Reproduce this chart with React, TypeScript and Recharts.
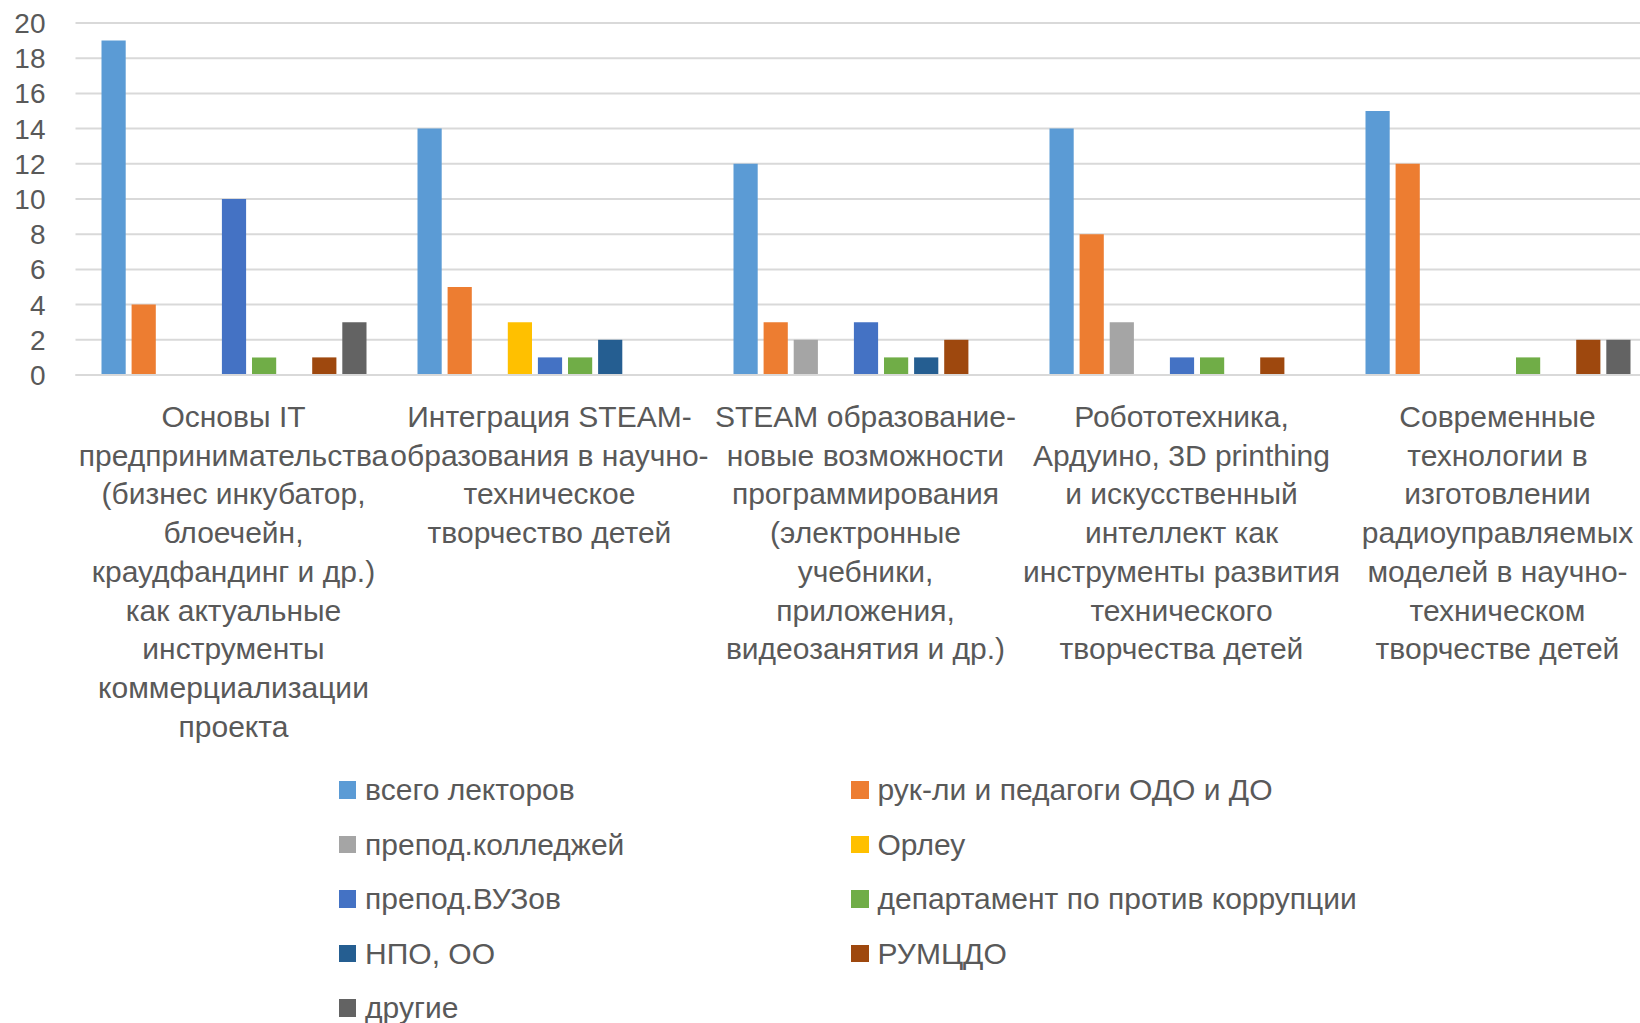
import React from "react";
import { BarChart, Bar, XAxis, YAxis, CartesianGrid } from "recharts";

const categories = [
    "Основы IT\nпредпринимательства\n(бизнес инкубатор,\nблоечейн,\nкраудфандинг и др.)\nкак актуальные\nинструменты\nкоммерциализации\nпроекта",
    "Интеграция STEAM-\nобразования в научно-\nтехническое\nтворчество детей",
    "STEAM образование-\nновые возможности\nпрограммирования\n(электронные\nучебники,\nприложения,\nвидеозанятия и др.)",
    "Робототехника,\nАрдуино, 3D printhing\nи искусственный\nинтеллект как\nинструменты развития\nтехнического\nтворчества детей",
    "Современные\nтехнологии в\nизготовлении\nрадиоуправляемых\nмоделей в научно-\nтехническом\nтворчестве детей",
];

const seriesNames = [
    "всего лекторов",
    "рук-ли и педагоги ОДО и ДО",
    "препод.колледжей",
    "Орлеу",
    "препод.ВУЗов",
    "департамент по против коррупции",
    "НПО, ОО",
    "РУМЦДО",
    "другие",
];

const seriesColors = [
    "#5B9BD5",
    "#ED7D31",
    "#A5A5A5",
    "#FFC000",
    "#4472C4",
    "#70AD47",
    "#255E91",
    "#9E480E",
    "#636363",
];

const vsegoLektorov = [19, 14, 12, 14, 15];
const rukovoditeli = [4, 5, 3, 8, 12];
const prepodKolledzhei = [0, 0, 2, 3, 0];
const orleu = [0, 3, 0, 0, 0];
const prepodVuzov = [10, 1, 3, 1, 0];
const departament = [1, 1, 1, 1, 1];
const npoOo = [0, 2, 1, 0, 0];
const rumcdo = [1, 0, 2, 1, 2];
const drugie = [3, 0, 0, 0, 2];

const seriesValues = [
    vsegoLektorov,
    rukovoditeli,
    prepodKolledzhei,
    orleu,
    prepodVuzov,
    departament,
    npoOo,
    rumcdo,
    drugie,
];

const yTicks = [0, 2, 4, 6, 8, 10, 12, 14, 16, 18, 20];

const data = categories.map((name, i) => {
    const row: Record<string, string | number> = { name };
    seriesNames.forEach((s, j) => {
        row["s" + j] = seriesValues[j][i];
    });
    return row;
});

const FONT = "'Liberation Sans', Arial, sans-serif";
const TEXT = "#595959";

const CategoryTick = (props: any) => {
    const { x, y, payload } = props;
    const lines = String(payload.value).split("\n");
    return (
        <text x={x} y={y} textAnchor="middle" fill={TEXT} fontSize={30} fontFamily={FONT}>
            {lines.map((l, i) => (
                <tspan key={i} x={x} dy={i === 0 ? 44 : 38.7}>
                    {l}
                </tspan>
            ))}
        </text>
    );
};

const App = () => {
    return (
        <div
            style={{
                position: "absolute",
                left: 0,
                top: 0,
                width: 1640,
                height: 1023,
                overflow: "hidden",
                background: "#fff",
            }}
        >
            <BarChart
                width={1660}
                height={1023}
                data={data}
                margin={{ top: 23, right: 4.5, left: 15.5, bottom: 318 }}
                barSize={24.2}
                barGap={5.9}
            >
                <CartesianGrid vertical={false} stroke="#D9D9D9" strokeWidth={2} />
                <XAxis
                    dataKey="name"
                    height={330}
                    interval={0}
                    tickLine={false}
                    axisLine={{ stroke: "#D9D9D9", strokeWidth: 2 }}
                    tick={<CategoryTick />}
                />
                <YAxis
                    width={60}
                    domain={[0, 20]}
                    ticks={yTicks}
                    interval={0}
                    axisLine={false}
                    tickLine={false}
                    tickMargin={24}
                    tick={{ fill: TEXT, fontSize: 28, fontFamily: FONT }}
                />
                {seriesNames.map((s, j) => (
                    <Bar
                        key={s}
                        dataKey={"s" + j}
                        name={s}
                        fill={seriesColors[j]}
                        isAnimationActive={false}
                    />
                ))}
            </BarChart>
            {seriesNames.map((s, j) => {
                const col = j % 2;
                const row = Math.floor(j / 2);
                return (
                    <div
                        key={s}
                        style={{
                            position: "absolute",
                            left: col ? 851 : 338.6,
                            top: 790 + row * 54.5 - 20,
                            height: 40,
                            display: "flex",
                            alignItems: "center",
                            fontFamily: FONT,
                            fontSize: 30,
                            color: TEXT,
                            whiteSpace: "nowrap",
                        }}
                    >
                        <span
                            style={{
                                display: "inline-block",
                                width: 17.5,
                                height: 17.5,
                                background: seriesColors[j],
                                marginRight: 9,
                            }}
                        />
                        {s}
                    </div>
                );
            })}
        </div>
    );
};

export default App;
